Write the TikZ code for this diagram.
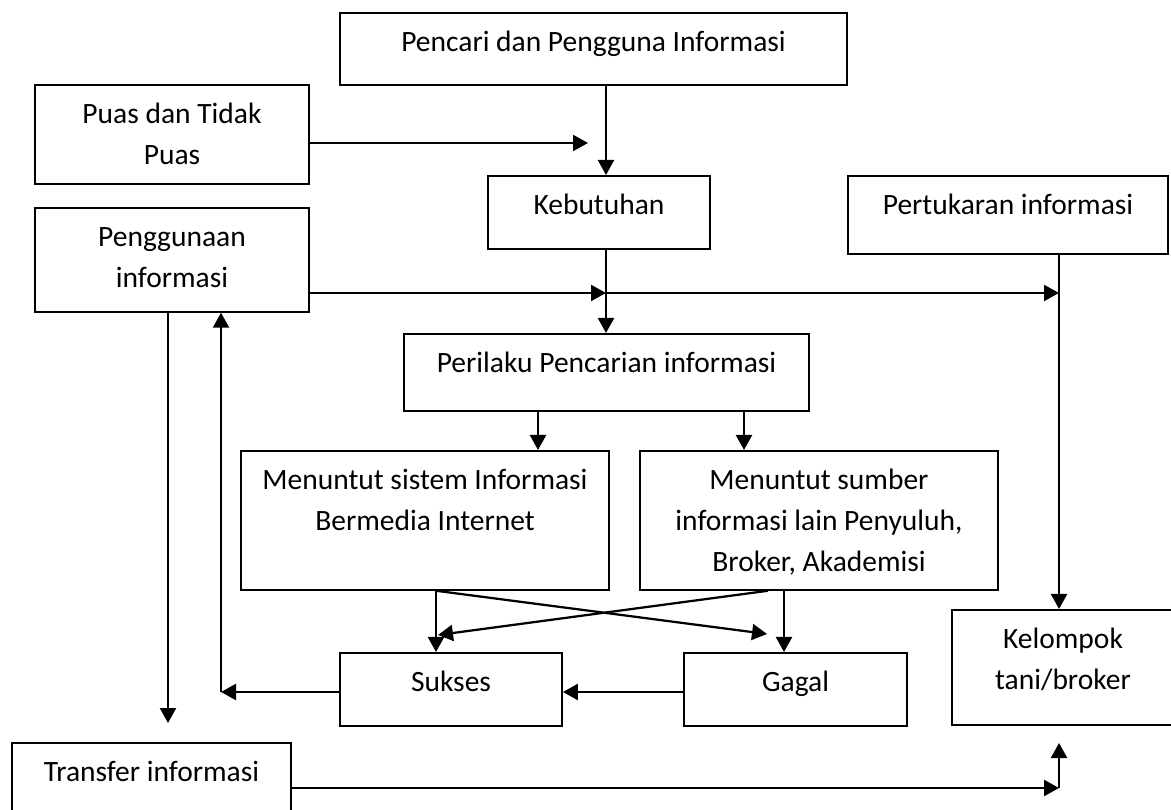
\documentclass[tikz,border=0pt]{standalone}
\usepackage{fontspec}
\setmainfont{Carlito}
\usepackage{tikz}
\usetikzlibrary{arrows.meta,positioning}

\begin{document}
\begin{tikzpicture}[x = 0.4pt, y = -0.4pt]
	\tikzstyle{every node} = [draw = black, line width = 0.7pt, anchor = north, align = center, inner sep = 0pt, text height = 15.6pt, font = \fontsize{11.8pt}{16.4pt}\selectfont]
	\tikzstyle{arr} = [line width = 0.9pt, -{Triangle[length = 6pt, width = 6.4pt]}]
\useasboundingbox (0, 0) rectangle (1171, 810);
\node[minimum width = 202.8pt, text depth = 13.2pt] (0) at (593.5, 12) {Pencari dan Pengguna Informasi};
\node[minimum width = 109.6pt, text height = 32pt, text depth = 7.6pt] (1) at (172, 84) {Puas dan Tidak\\Puas};
\node[minimum width = 88.8pt, text depth = 13.6pt] (2) at (599, 175) {Kebutuhan};
\node[minimum width = 128pt, text depth = 15.6pt] (3) at (1008, 175) {Pertukaran informasi};
\node[minimum width = 109.6pt, text height = 32pt, text depth = 9.6pt] (4) at (172, 207) {Penggunaan\\informasi};
\node[minimum width = 162pt, text depth = 15.2pt] (5) at (606.5, 333) {Perilaku Pencarian informasi};
\node[minimum width = 147.2pt, text height = 32pt, text depth = 23.6pt] (6) at (425, 450) {Menuntut sistem Informasi\\Bermedia Internet};
\node[minimum width = 143.2pt, text height = 48.4pt, text depth = 7.2pt] (7) at (819, 450) {Menuntut sumber\\informasi lain Penyuluh,\\Broker, Akademisi};
\node[minimum width = 88.8pt, text depth = 13.6pt] (8) at (451, 652) {Sukses};
\node[minimum width = 89.2pt, text depth = 13.6pt] (9) at (795.5, 652) {Gagal};
\node[minimum width = 88.8pt, text height = 32pt, text depth = 14pt] (10) at (1063, 609) {Kelompok\\tani/broker};
\node[minimum width = 111.6pt, text depth = 16.4pt] (11) at (151.5, 742) {Transfer informasi};
	% junctions and free ends
	\coordinate (a) at (606, 293);
	\coordinate (b) at (588, 143);
	\coordinate (c) at (1059, 293);
	\coordinate (d) at (221, 692);
	\coordinate (e) at (1059, 788);
	\coordinate (f) at (1059, 743);
	\coordinate (g) at (168, 723);
	\coordinate (x1) at (767, 634);
	\coordinate (x2) at (438, 635);
	\coordinate (s1) at (538, 0);
	\coordinate (s2) at (744, 0);
	\coordinate (s3) at (436, 0);
	\coordinate (s4) at (784, 0);
	\coordinate (s5) at (768, 0);

	\path[draw, arr] (1.east |- b) -- (b);
	\path[draw, arr] (0.south -| a) -- (2.north -| a);
	\path[draw, arr] (2.south -| a) -- (5.north -| a);
	\path[draw, arr] (4.east |- a) -- (a);
	\path[draw, arr] (a) -- (c);
	\path[draw, arr] (3.south -| c) -- (10.north -| c);
	\path[draw, arr] (5.south -| s1) -- (6.north -| s1);
	\path[draw, arr] (5.south -| s2) -- (7.north -| s2);
	\path[draw, arr] (6.south -| s3) -- (8.north -| s3);
	\path[draw, arr] (7.south -| s4) -- (9.north -| s4);
	\path[draw, arr] (6.south -| s3) -- (x1);
	\path[draw, arr] (7.south -| s5) -- (x2);
	\path[draw, arr] (9.west |- d) -- (8.east |- d);
	\path[draw, arr] (8.west |- d) -- (d);
	\path[draw, arr] (d) -- (4.south -| d);
	\path[draw, arr] (4.south -| g) -- (g);
	\path[draw, arr] (11.east |- e) -- (e);
	\path[draw, arr] (e) -- (f);
\end{tikzpicture}
\end{document}
